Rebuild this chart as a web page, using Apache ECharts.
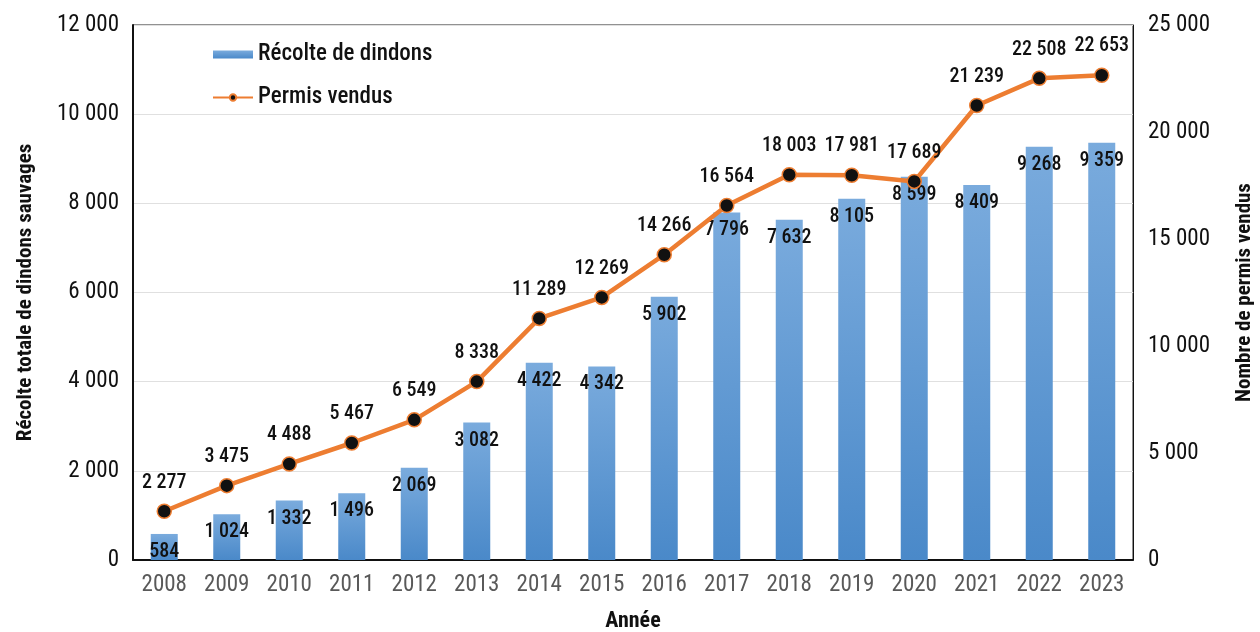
<!DOCTYPE html>
<html>
<head>
<meta charset="utf-8">
<script src="https://cdn.jsdelivr.net/npm/echarts@6/dist/echarts.min.js"></script>
<style>
  html, body { margin: 0; padding: 0; background: #fff; }
  #chart { width: 1260px; height: 632px; }
</style>
</head>
<body>
<div id="chart"></div>
<script>
const years = ['2008','2009','2010','2011','2012','2013','2014','2015','2016','2017','2018','2019','2020','2021','2022','2023'];
const harvest = [584, 1024, 1332, 1496, 2069, 3082, 4422, 4342, 5902, 7796, 7632, 8105, 8599, 8409, 9268, 9359];
const permits = [2277, 3475, 4488, 5467, 6549, 8338, 11289, 12269, 14266, 16564, 18003, 17981, 17689, 21239, 22508, 22653];

const font = '"Liberation Sans Narrow", "Roboto Condensed", "Liberation Sans", sans-serif';
const fmt = v => String(v).replace(/\B(?=(\d{3})+(?!\d))/g, ' ');

const chart = echarts.init(document.getElementById('chart'));
chart.setOption({
  animation: false,
  textStyle: { fontFamily: font },
  grid: {
    left: 133, right: 127, top: 25, bottom: 72,
    outerBoundsMode: 'none',
    show: true, borderColor: '#222', borderWidth: 1
  },
  legend: {
    orient: 'vertical',
    left: 207, top: 38,
    itemGap: 20, itemWidth: 40, itemHeight: 8,
    textStyle: { fontFamily: font, fontSize: 23, fontWeight: 500, color: '#111' },
    data: [
      { name: 'Récolte de dindons', icon: 'rect' },
      { name: 'Permis vendus' }
    ]
  },
  xAxis: {
    type: 'category',
    data: years,
    name: 'Année',
    nameLocation: 'middle',
    nameGap: 50,
    nameTextStyle: { fontFamily: font, fontSize: 22, fontWeight: 'bold', color: '#111' },
    axisLine: { lineStyle: { color: '#111', width: 2 } },
    axisTick: { show: false },
    axisLabel: { fontFamily: font, fontSize: 23, color: '#595959', margin: 14 }
  },
  yAxis: [
    {
      type: 'value', min: 0, max: 12000, interval: 2000,
      name: 'Récolte totale de dindons sauvages',
      nameLocation: 'middle', nameGap: 97, nameRotate: 90,
      nameTextStyle: { fontFamily: font, fontSize: 21, fontWeight: 'bold', color: '#111' },
      axisLine: { show: true, lineStyle: { color: '#111', width: 2 } },
      axisTick: { show: false },
      axisLabel: { fontFamily: font, fontSize: 23, color: '#111', margin: 14, formatter: fmt },
      splitLine: { lineStyle: { color: '#e0e0e0', width: 1 } }
    },
    {
      type: 'value', min: 0, max: 25000, interval: 5000,
      name: 'Nombre de permis vendus',
      nameLocation: 'middle', nameGap: 101, nameRotate: 90,
      nameTextStyle: { fontFamily: font, fontSize: 21, fontWeight: 'bold', color: '#111' },
      axisLine: { show: true, lineStyle: { color: '#111', width: 1 } },
      axisTick: { show: false },
      axisLabel: { fontFamily: font, fontSize: 23, color: '#111', margin: 15, formatter: fmt },
      splitLine: { show: false }
    }
  ],
  series: [
    {
      name: 'Récolte de dindons',
      type: 'bar',
      data: harvest,
      barWidth: 27,
      itemStyle: {
        color: new echarts.graphic.LinearGradient(0, 0, 0, 1, [
          { offset: 0, color: '#7aabdd' },
          { offset: 1, color: '#4a89c9' }
        ])
      },
      label: {
        show: true, position: 'insideTop', distance: 8,
        fontFamily: font, fontSize: 20, fontWeight: 500, color: '#111',
        formatter: p => fmt(p.value)
      }
    },
    {
      name: 'Permis vendus',
      type: 'line',
      yAxisIndex: 1,
      data: permits,
      symbol: 'circle',
      symbolSize: 14,
      lineStyle: { color: '#ed7d31', width: 4.5 },
      itemStyle: { color: '#111', borderColor: '#ed7d31', borderWidth: 1.5 },
      label: {
        show: true, position: 'top', distance: 11,
        fontFamily: font, fontSize: 20, fontWeight: 500, color: '#111',
        formatter: p => fmt(p.value)
      },
      z: 5
    }
  ]
});
</script>
</body>
</html>
